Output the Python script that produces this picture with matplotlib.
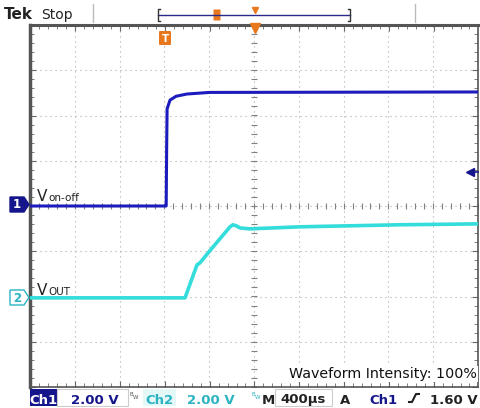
import numpy as np
import matplotlib
matplotlib.use('Agg')
import matplotlib.pyplot as plt
import matplotlib.patches as patches
from matplotlib.ticker import MultipleLocator

# scope settings
volts_per_div = 2.0
time_per_div = 400.0          # us
trig_div = 3.01               # trigger position, divisions from left
ch2_offset_div = -2.03

# Ch1: V_on-off (V) vs time (us)
t1 = [-1204, 12, 16, 20, 46, 100, 198, 400, 2796]
v1 = [0.0, 0.0, 2.5, 4.29, 4.68, 4.85, 4.95, 5.02, 5.04]

# Ch2: V_OUT (V) vs time (us)
t2 = [-1204, 180, 287, 300, 314, 430, 582, 608, 640, 671, 760, 1206, 2100, 2796]
v2 = [0.0, 0.0, 1.46, 1.50, 1.55, 2.25, 3.14, 3.23, 3.18, 3.09, 3.05, 3.14, 3.23, 3.27]

W, H = 480, 408
c_navy = '#16168c'
c_ch1 = '#1c1cbe'
c_ch2 = '#34dcdc'
c_ch2_txt = '#2bb3c2'
c_orange = '#e8781e'
c_grid = '#aaaaaa'

fig = plt.figure(figsize=(W/100, H/100), dpi=100)
fig.patch.set_facecolor('white')

# graticule in pixels
gx0, gx1, gy0, gy1 = 30, 478, 25, 387
ax = fig.add_axes([gx0/W, 1 - gy1/H, (gx1-gx0)/W, (gy1-gy0)/H])
xmin = -trig_div*time_per_div
xmax = xmin + 10*time_per_div
ymin, ymax = -4*volts_per_div, 4*volts_per_div
ax.set_xlim(xmin, xmax)
ax.set_ylim(ymin, ymax)

for k in range(1, 10):
    ax.axvline(xmin + k*time_per_div, color=c_grid, lw=0.8, ls=(0, (1, 3.5)), zorder=0)
for j in range(1, 8):
    ax.axhline(ymin + j*volts_per_div, color=c_grid, lw=0.8, ls=(0, (1, 3.5)), zorder=0)

# center crosshair minor ticks
xc = xmin + 5*time_per_div
xt = np.arange(xmin, xmax + 1, time_per_div/5)
yt = np.arange(ymin, ymax + 0.01, volts_per_div/5)
ax.plot(xt, np.zeros_like(xt), ls='none', marker='|', ms=4, mew=0.8, color='#808080', zorder=0)
ax.plot(np.full_like(yt, xc), yt, ls='none', marker='_', ms=4, mew=0.8, color='#808080', zorder=0)

ax.xaxis.set_major_locator(MultipleLocator(time_per_div))
ax.xaxis.set_minor_locator(MultipleLocator(time_per_div/5))
ax.yaxis.set_major_locator(MultipleLocator(volts_per_div))
ax.yaxis.set_minor_locator(MultipleLocator(volts_per_div/5))
ax.tick_params(which='both', direction='in', top=True, right=True,
               labelbottom=False, labelleft=False, color='#666666')
ax.tick_params(which='major', length=4)
ax.tick_params(which='minor', length=3)
for s in ax.spines.values():
    s.set_color('#555555')
    s.set_linewidth(1.2)
ax.spines['left'].set_linewidth(2.5)
ax.spines['top'].set_linewidth(2.2)

# traces
ax.plot(t1, np.array(v1), color=c_ch1, lw=2.2, zorder=3)
ax.plot(t2, np.array(v2) + ch2_offset_div*volts_per_div, color=c_ch2, lw=2.6, zorder=3)

# overlay in pixel coordinates for scope decorations
ov = fig.add_axes([0, 0, 1, 1], facecolor='none')
ov.set_xlim(0, W)
ov.set_ylim(H, 0)
ov.axis('off')

ov.text(4, 19, 'Tek', fontsize=11, fontweight='bold', color='#222222', va='baseline')
ov.text(41, 19, 'Stop', fontsize=10, color='#222222', va='baseline')
ov.plot([93, 93], [4, 22], color='#bbbbbb', lw=1)
ov.plot([415, 415], [4, 22], color='#bbbbbb', lw=1)

# record-length bar
ov.plot([158, 350], [15, 15], color='#2a2a8a', lw=1.0)
ov.plot([160, 158, 158, 160], [9, 9, 21, 21], color='#333333', lw=1)
ov.plot([348, 350, 350, 348], [9, 9, 21, 21], color='#333333', lw=1)
ov.add_patch(patches.FancyBboxPatch((214, 10), 6, 10, boxstyle='round,pad=0.5', fc=c_orange, ec='none'))
ov.plot([255], [10], marker='v', ms=4, color=c_orange, ls='none')
ov.plot([255], [28], marker='v', ms=7, color=c_orange, ls='none')

# trigger position marker
ov.add_patch(patches.FancyBboxPatch((160, 32), 10, 12, boxstyle='round,pad=1', fc=c_orange, ec='none'))
ov.text(165, 38.5, 'T', color='white', fontsize=7.5, fontweight='bold', ha='center', va='center')

# trigger level marker
ov.plot([470], [172], marker='<', ms=6, color=c_navy, ls='none')
ov.plot([470, 478], [172, 172], color=c_navy, lw=1.2)

# channel ground markers
ov.add_patch(patches.Polygon([[10, 197], [24, 197], [29, 204.5], [24, 212], [10, 212]],
                             closed=True, fc=c_navy, ec=c_navy))
ov.text(17, 205, '1', color='white', fontsize=8.5, fontweight='bold', ha='center', va='center')
ov.add_patch(patches.Polygon([[10, 290], [24, 290], [29, 297.5], [24, 305], [10, 305]],
                             closed=True, fc='white', ec=c_ch2_txt, lw=1))
ov.text(17, 298, '2', color=c_ch2_txt, fontsize=8.5, fontweight='bold', ha='center', va='center')

# trace labels
ov.text(37, 201, 'V', fontsize=11, color='#222222', va='baseline')
ov.text(48, 201, 'on-off', fontsize=7.5, color='#222222', va='baseline')
ov.text(37, 295, 'V', fontsize=11, color='#222222', va='baseline')
ov.text(48, 295, 'OUT', fontsize=7.5, color='#222222', va='baseline')

ov.text(477, 378, 'Waveform Intensity: 100%', fontsize=10.3, color='#111111',
        ha='right', va='baseline', bbox=dict(fc='white', ec='none', pad=0.5))

# status bar
yb = 403.5
fs = 9.5
ov.add_patch(patches.Rectangle((30, 389), 27, 17, fc=c_navy, ec='none'))
ov.text(43.5, yb, 'Ch1', color='white', fontsize=fs, fontweight='bold', ha='center', va='baseline')
ov.add_patch(patches.Rectangle((57, 389), 71, 17, fc='none', ec='#cccccc', lw=0.8))
ov.text(95, yb, '2.00 V', color=c_navy, fontsize=fs, fontweight='bold', ha='center', va='baseline')
ov.text(130, 396, 'B', color='#555555', fontsize=4, va='baseline')
ov.text(133, 399, 'W', color='#555555', fontsize=4, va='baseline')
ov.add_patch(patches.Rectangle((143, 389), 33, 17, fc='#e4f8f8', ec='none'))
ov.text(159.5, yb, 'Ch2', color=c_ch2_txt, fontsize=fs, fontweight='bold', ha='center', va='baseline')
ov.text(211, yb, '2.00 V', color=c_ch2_txt, fontsize=fs, fontweight='bold', ha='center', va='baseline')
ov.text(252, 396, 'B', color=c_ch2_txt, fontsize=4, va='baseline')
ov.text(255, 399, 'W', color=c_ch2_txt, fontsize=4, va='baseline')
ov.text(268, yb, 'M', color='#222222', fontsize=fs, fontweight='bold', ha='center', va='baseline')
ov.add_patch(patches.Rectangle((275, 389), 57, 17, fc='none', ec='#cccccc', lw=0.8))
ov.text(303, yb, '400\u00b5s', color='#222222', fontsize=fs, fontweight='bold', ha='center', va='baseline')
ov.text(345, yb, 'A', color='#222222', fontsize=fs, fontweight='bold', ha='center', va='baseline')
ov.text(383, yb, 'Ch1', color=c_navy, fontsize=fs, fontweight='bold', ha='center', va='baseline')
ov.plot([409, 412, 416, 419], [402, 402, 394, 394], color='#222222', lw=1.5)
ov.text(478, yb, '1.60 V', color='#222222', fontsize=fs, fontweight='bold', ha='right', va='baseline')

fig.savefig('out.png', dpi=100)
